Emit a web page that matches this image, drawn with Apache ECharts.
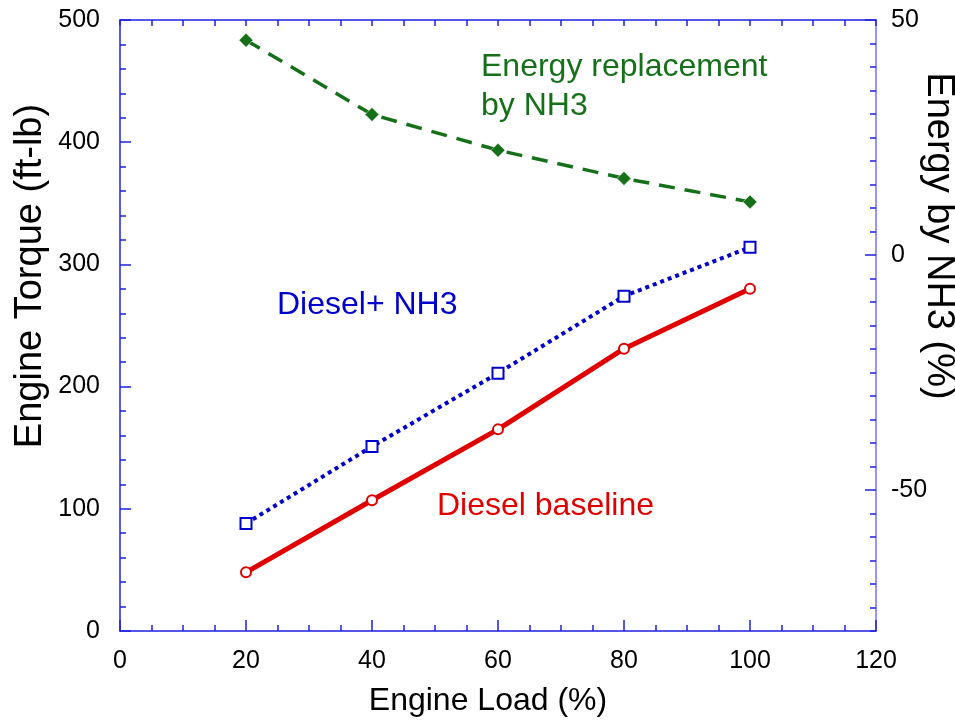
<!DOCTYPE html>
<html>
<head>
<meta charset="utf-8">
<script src="https://cdn.jsdelivr.net/npm/echarts@6/dist/echarts.min.js"></script>
<style>html,body{margin:0;padding:0;background:#fff}#c{width:955px;height:720px}</style>
</head>
<body>
<div id="c"></div>
<script>
const engineLoad = [20, 40, 60, 80, 100];
const dieselBaseline = [48, 107, 165, 231, 280];
const dieselNH3 = [88, 151, 211, 274, 314];
const energyByNH3 = [45.7, 29.9, 22.3, 16.3, 11.3];
const rightAxisLabels = [-50, 0, 50];

const FONT = '"Liberation Sans", Arial, sans-serif';
const AXIS_BLUE = '#2020e0';
const RIGHT_BLUE = '#7070ff';
const GREEN = '#16701a';
const RED = '#e00000';
const BLUE = '#0000cc';

const pairs = (xs, ys) => xs.map((x, i) => [x, ys[i]]);
const line = c => ({show: true, onZero: false, lineStyle: {color: c, width: 1.5}});
const tick = (len, extra) => Object.assign({show: true, inside: true, length: len, lineStyle: {color: AXIS_BLUE, width: 1.5}}, extra || {});

const chart = echarts.init(document.getElementById('c'), null, {renderer: 'canvas'});
chart.setOption({
  animation: false,
  backgroundColor: '#fff',
  grid: {left: 120, right: 79, top: 20, bottom: 89, containLabel: false},
  xAxis: [{
    type: 'value', min: 0, max: 120, interval: 20, position: 'bottom',
    axisLine: line(AXIS_BLUE),
    axisTick: tick(11),
    minorTick: {show: true, splitNumber: 4, length: 6, lineStyle: {color: AXIS_BLUE, width: 1.5}},
    splitLine: {show: false},
    axisLabel: {color: '#000', fontSize: 25, fontFamily: FONT, margin: 18}
  }, {
    type: 'value', min: 0, max: 120, interval: 20, position: 'top',
    axisLine: line(AXIS_BLUE),
    axisTick: tick(6),
    minorTick: {show: true, splitNumber: 4, length: 6, lineStyle: {color: AXIS_BLUE, width: 1.5}},
    splitLine: {show: false},
    axisLabel: {show: false}
  }],
  yAxis: [{
    type: 'value', min: 0, max: 500, interval: 100, position: 'left',
    axisLine: line(AXIS_BLUE),
    axisTick: tick(11),
    minorTick: {show: true, splitNumber: 5, length: 6, lineStyle: {color: AXIS_BLUE, width: 1.5}},
    splitLine: {show: false},
    axisLabel: {color: '#000', fontSize: 25, fontFamily: FONT, margin: 20}
  }, {
    type: 'value', min: -80, max: 50, interval: 10, position: 'right',
    axisLine: line(RIGHT_BLUE),
    axisTick: tick(6),
    minorTick: {show: true, splitNumber: 2, length: 6, lineStyle: {color: AXIS_BLUE, width: 1.5}},
    splitLine: {show: false},
    axisLabel: {color: '#000', fontSize: 25, fontFamily: FONT, margin: 15,
      formatter: v => rightAxisLabels.includes(v) ? String(v) : ''}
  }, {
    type: 'value', min: -80, max: 50, position: 'right',
    axisLine: {show: false, onZero: false},
    axisTick: tick(11, {customValues: rightAxisLabels}),
    splitLine: {show: false},
    axisLabel: {show: false}
  }],
  series: [{
    type: 'line', name: 'Diesel baseline', xAxisIndex: 0, yAxisIndex: 0,
    data: pairs(engineLoad, dieselBaseline),
    symbol: 'emptyCircle', symbolSize: 10,
    lineStyle: {color: RED, width: 5},
    itemStyle: {color: RED, borderColor: RED, borderWidth: 1.5}
  }, {
    type: 'line', name: 'Diesel+ NH3', xAxisIndex: 0, yAxisIndex: 0,
    data: pairs(engineLoad, dieselNH3),
    symbol: 'emptyRect', symbolSize: 11,
    lineStyle: {color: BLUE, width: 4, type: [4, 4]},
    itemStyle: {color: BLUE, borderColor: BLUE, borderWidth: 1.5}
  }, {
    type: 'line', name: 'Energy replacement by NH3', xAxisIndex: 0, yAxisIndex: 1,
    data: pairs(engineLoad, energyByNH3),
    symbol: 'diamond', symbolSize: 14,
    lineStyle: {color: GREEN, width: 3.5, type: [16, 10]},
    itemStyle: {color: GREEN, borderColor: '#fff', borderWidth: 0.5}
  }],
  graphic: [
    {type: 'text', x: 488, y: 701, style: {text: 'Engine Load (%)', fill: '#000', font: '32px ' + FONT, textAlign: 'center', textVerticalAlign: 'middle'}},
    {type: 'text', x: 31, y: 276, rotation: Math.PI / 2, style: {text: 'Engine Torque (ft-lb)', fill: '#000', font: '38px ' + FONT, textAlign: 'center', textVerticalAlign: 'middle'}},
    {type: 'text', x: 938, y: 236, rotation: -Math.PI / 2, style: {text: 'Energy by NH3 (%)', fill: '#000', font: '38px ' + FONT, textAlign: 'center', textVerticalAlign: 'middle'}},
    {type: 'text', x: 481, y: 67, style: {text: 'Energy replacement', fill: GREEN, font: '32px ' + FONT, textAlign: 'left', textVerticalAlign: 'middle'}},
    {type: 'text', x: 481, y: 106, style: {text: 'by NH3', fill: GREEN, font: '32px ' + FONT, textAlign: 'left', textVerticalAlign: 'middle'}},
    {type: 'text', x: 277, y: 305, style: {text: 'Diesel+ NH3', fill: BLUE, font: '32px ' + FONT, textAlign: 'left', textVerticalAlign: 'middle'}},
    {type: 'text', x: 437, y: 506, style: {text: 'Diesel baseline', fill: RED, font: '32px ' + FONT, textAlign: 'left', textVerticalAlign: 'middle'}}
  ]
});
</script>
</body>
</html>
